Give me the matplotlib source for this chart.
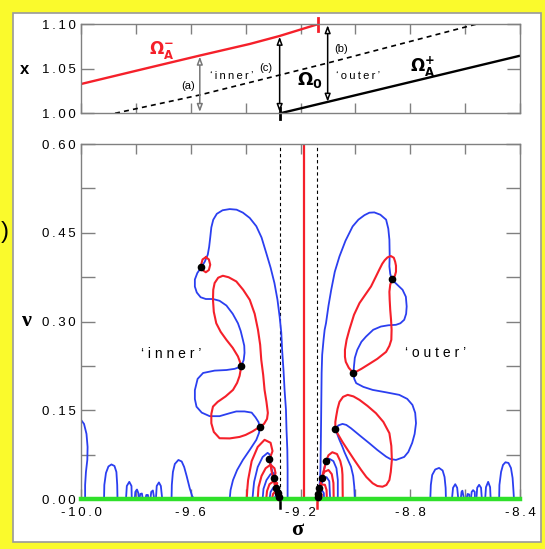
import matplotlib.pyplot as plt
from matplotlib.patches import Rectangle

plt.rcParams['font.family'] = ['Liberation Sans', 'DejaVu Sans']
plt.rcParams['mathtext.fontset'] = 'dejavusans'

# ------------------------------
# Top panel: branches versus x
# ------------------------------
omega_minus_sigma = [-10.0, -9.749, -9.567, -9.385, -9.276, -9.138]
omega_minus_x = [1.0329, 1.0515, 1.0649, 1.0779, 1.0869, 1.100]
omega0_sigma = [-9.876, -9.567, -9.276, -9.107, -8.561]
omega0_x = [1.000, 1.0206, 1.043, 1.056, 1.100]
omega_plus_sigma = [-9.274, -8.804, -8.404]
omega_plus_x = [1.000, 1.0348, 1.0644]

# gap arrows: (sigma, x_low, x_high)
arrow_a = (-9.567, 1.0015, 1.0637)
arrow_c = (-9.276, 1.0015, 1.0860)
arrow_b = (-9.101, 1.0130, 1.0990)

# ------------------------------------------
# Bottom panel: zero contours in (sigma, nu)
# ------------------------------------------
sigma_inner_edge = -9.276
sigma_outer_edge = -9.139
sigma_red_line = -9.188

# 'inner' side, blue contours
inner_big_blue = [(-9.416, 0.224), (-9.407, 0.235), (-9.404, 0.247), (-9.405, 0.259),
                  (-9.410, 0.269), (-9.418, 0.284), (-9.428, 0.297), (-9.447, 0.313),
                  (-9.470, 0.327), (-9.495, 0.335), (-9.519, 0.338), (-9.545, 0.338),
                  (-9.564, 0.341), (-9.578, 0.349), (-9.585, 0.359), (-9.585, 0.371),
                  (-9.576, 0.382), (-9.561, 0.392), (-9.549, 0.401), (-9.538, 0.413),
                  (-9.533, 0.426), (-9.529, 0.442), (-9.525, 0.459), (-9.518, 0.472),
                  (-9.505, 0.482), (-9.484, 0.488), (-9.458, 0.490), (-9.433, 0.489),
                  (-9.410, 0.484), (-9.385, 0.475), (-9.361, 0.461), (-9.342, 0.442),
                  (-9.325, 0.416), (-9.309, 0.391), (-9.295, 0.365), (-9.284, 0.337),
                  (-9.276, 0.308), (-9.270, 0.281), (-9.267, 0.252), (-9.262, 0.218),
                  (-9.258, 0.184), (-9.253, 0.151), (-9.251, 0.117), (-9.248, 0.083),
                  (-9.247, 0.049), (-9.247, 0.0)]
inner_blue_loop = [(-9.416, 0.224), (-9.440, 0.220), (-9.470, 0.218), (-9.513, 0.217),
                   (-9.555, 0.213), (-9.575, 0.203), (-9.585, 0.184), (-9.585, 0.169),
                   (-9.579, 0.156), (-9.560, 0.146), (-9.531, 0.140), (-9.495, 0.140),
                   (-9.458, 0.145), (-9.434, 0.148), (-9.404, 0.148), (-9.378, 0.146),
                   (-9.364, 0.138), (-9.353, 0.130), (-9.349, 0.122), (-9.351, 0.112),
                   (-9.361, 0.100), (-9.385, 0.083), (-9.410, 0.066), (-9.431, 0.049),
                   (-9.446, 0.032), (-9.455, 0.015), (-9.458, 0.0)]
inner_blue_arch2 = [(-9.375, 0.0), (-9.372, 0.016), (-9.369, 0.029), (-9.356, 0.054),
                    (-9.338, 0.071), (-9.320, 0.078), (-9.309, 0.074), (-9.313, 0.067),
                    (-9.304, 0.049), (-9.291, 0.024), (-9.280, 0.0)]
inner_blue_arch4 = [(-9.338, 0.0), (-9.335, 0.017), (-9.324, 0.032), (-9.309, 0.042),
                    (-9.296, 0.044), (-9.295, 0.036), (-9.287, 0.020), (-9.279, 0.0)]
inner_blue_arch6 = [(-9.313, 0.0), (-9.309, 0.012), (-9.298, 0.020), (-9.288, 0.018),
                    (-9.282, 0.012), (-9.278, 0.0)]
inner_blue_arch8 = [(-9.296, 0.0), (-9.289, 0.0068), (-9.280, 0.0059), (-9.276, 0.0)]

# 'inner' side, red contours
inner_small_red = [(-9.545, 0.4086), (-9.534, 0.4049), (-9.529, 0.396), (-9.534, 0.387),
                   (-9.545, 0.3832), (-9.557, 0.387), (-9.562, 0.396), (-9.557, 0.4049),
                   (-9.545, 0.4086)]
inner_red_loop = [(-9.416, 0.224), (-9.422, 0.2335), (-9.428, 0.241), (-9.447, 0.2555),
                  (-9.470, 0.269), (-9.491, 0.2826), (-9.507, 0.297), (-9.516, 0.3164),
                  (-9.519, 0.3367), (-9.518, 0.3536), (-9.513, 0.365), (-9.500, 0.374),
                  (-9.483, 0.3773), (-9.462, 0.3748), (-9.434, 0.3677), (-9.409, 0.3536),
                  (-9.385, 0.3367), (-9.367, 0.313), (-9.355, 0.286), (-9.347, 0.2606),
                  (-9.343, 0.2352), (-9.336, 0.2098), (-9.331, 0.1844), (-9.324, 0.164),
                  (-9.319, 0.1455), (-9.322, 0.1354), (-9.333, 0.1269), (-9.349, 0.1218),
                  (-9.375, 0.1142), (-9.400, 0.1083), (-9.422, 0.1049), (-9.458, 0.1024),
                  (-9.495, 0.1027), (-9.516, 0.1134), (-9.525, 0.1281), (-9.525, 0.1438),
                  (-9.519, 0.1562), (-9.502, 0.1641), (-9.473, 0.1734), (-9.446, 0.1844),
                  (-9.431, 0.1963), (-9.422, 0.2081), (-9.416, 0.224)]
inner_red_arch1 = [(-9.396, 0.0), (-9.394, 0.016), (-9.391, 0.032), (-9.378, 0.064),
                   (-9.356, 0.088), (-9.331, 0.100), (-9.309, 0.095), (-9.302, 0.081),
                   (-9.313, 0.067), (-9.305, 0.046), (-9.293, 0.022), (-9.282, 0.0)]
inner_red_arch3 = [(-9.356, 0.0), (-9.353, 0.020), (-9.342, 0.039), (-9.327, 0.052),
                   (-9.309, 0.058), (-9.295, 0.052), (-9.291, 0.044), (-9.295, 0.036),
                   (-9.289, 0.022), (-9.280, 0.0)]
inner_red_arch5 = [(-9.325, 0.0), (-9.322, 0.0135), (-9.313, 0.025), (-9.298, 0.030),
                   (-9.285, 0.027), (-9.288, 0.018), (-9.282, 0.010), (-9.278, 0.0)]
inner_red_arch7 = [(-9.304, 0.0), (-9.300, 0.0085), (-9.291, 0.0135), (-9.283, 0.0096),
                   (-9.277, 0.0)]

# 'outer' side, blue contours
outer_big_blue = [(-9.135, 0.0), (-9.131, 0.0186), (-9.128, 0.0406), (-9.127, 0.0541),
                  (-9.126, 0.0914), (-9.125, 0.1286), (-9.124, 0.1709), (-9.123, 0.2132),
                  (-9.121, 0.2437), (-9.116, 0.269), (-9.112, 0.286), (-9.107, 0.2973),
                  (-9.098, 0.3266), (-9.088, 0.3536), (-9.075, 0.3841), (-9.058, 0.410),
                  (-9.036, 0.4365), (-9.010, 0.4607), (-8.989, 0.4721), (-8.967, 0.4797),
                  (-8.949, 0.4839), (-8.931, 0.4844), (-8.909, 0.4805), (-8.888, 0.4721),
                  (-8.880, 0.4569), (-8.876, 0.4382), (-8.875, 0.4129), (-8.876, 0.393),
                  (-8.873, 0.3807), (-8.867, 0.3706), (-8.851, 0.3638), (-8.828, 0.3536),
                  (-8.816, 0.3418), (-8.813, 0.3254), (-8.815, 0.313), (-8.822, 0.3029),
                  (-8.836, 0.297), (-8.852, 0.2944), (-8.880, 0.2936), (-8.907, 0.2915),
                  (-8.935, 0.286), (-8.961, 0.2746), (-8.978, 0.2657), (-8.993, 0.2521),
                  (-9.002, 0.2386), (-9.005, 0.225), (-9.007, 0.2127)]
outer_blue_loop = [(-9.007, 0.2127), (-9.004, 0.203), (-8.997, 0.1958), (-8.971, 0.1895),
                   (-8.937, 0.1844), (-8.887, 0.1802), (-8.840, 0.176), (-8.811, 0.1692),
                   (-8.792, 0.159), (-8.782, 0.1455), (-8.779, 0.1281), (-8.784, 0.110),
                   (-8.793, 0.0948), (-8.807, 0.0795), (-8.822, 0.0711), (-8.852, 0.066),
                   (-8.873, 0.0677), (-8.888, 0.0716), (-8.920, 0.0829), (-8.949, 0.0942),
                   (-8.982, 0.1066), (-9.016, 0.1196), (-9.033, 0.1252), (-9.047, 0.1269),
                   (-9.062, 0.1244), (-9.073, 0.1179), (-9.065, 0.1083), (-9.058, 0.0998),
                   (-9.047, 0.088), (-9.040, 0.0795), (-9.027, 0.066), (-9.016, 0.0547),
                   (-9.008, 0.0389), (-9.004, 0.0208), (-9.002, 0.0)]
outer_blue_arch2 = [(-9.135, 0.0), (-9.127, 0.020), (-9.116, 0.046), (-9.107, 0.064),
                    (-9.095, 0.068), (-9.080, 0.064), (-9.069, 0.052), (-9.064, 0.032),
                    (-9.064, 0.0)]
outer_blue_arch4 = [(-9.133, 0.0), (-9.127, 0.019), (-9.118, 0.034), (-9.105, 0.037),
                    (-9.095, 0.030), (-9.092, 0.0)]
outer_blue_arch6 = [(-9.132, 0.0), (-9.129, 0.012), (-9.122, 0.015), (-9.115, 0.010),
                    (-9.114, 0.0)]

# 'outer' side, red contours
outer_red_loop = [(-8.867, 0.3706), (-8.856, 0.3773), (-8.852, 0.3841), (-8.852, 0.3942),
                  (-8.855, 0.401), (-8.860, 0.4078), (-8.871, 0.4107), (-8.883, 0.4083),
                  (-8.893, 0.4036), (-8.902, 0.3976), (-8.913, 0.3875), (-8.925, 0.3761),
                  (-8.943, 0.3592), (-8.964, 0.3452), (-8.985, 0.3311), (-9.005, 0.3113),
                  (-9.022, 0.286), (-9.032, 0.269), (-9.038, 0.2521), (-9.038, 0.2403),
                  (-9.035, 0.2318), (-9.024, 0.2217), (-9.007, 0.2127), (-8.978, 0.220),
                  (-8.949, 0.2284), (-8.920, 0.2369), (-8.888, 0.2487), (-8.876, 0.2589),
                  (-8.869, 0.269), (-8.868, 0.286), (-8.870, 0.3029), (-8.873, 0.3198),
                  (-8.875, 0.3367), (-8.876, 0.3503), (-8.873, 0.3621), (-8.867, 0.3706)]
outer_red_ring = [(-9.073, 0.1179), (-9.073, 0.1303), (-9.070, 0.1393), (-9.065, 0.1523),
                  (-9.058, 0.1641), (-9.045, 0.1726), (-9.028, 0.176), (-9.007, 0.1734),
                  (-8.985, 0.1675), (-8.956, 0.1574), (-8.925, 0.145), (-8.898, 0.1303),
                  (-8.876, 0.1112), (-8.869, 0.0897), (-8.867, 0.066), (-8.871, 0.0457),
                  (-8.876, 0.0321), (-8.887, 0.0237), (-8.901, 0.0208), (-8.920, 0.022),
                  (-8.937, 0.0266), (-8.960, 0.0372), (-8.979, 0.0491), (-9.004, 0.066),
                  (-9.028, 0.0829), (-9.047, 0.0964), (-9.062, 0.1083), (-9.073, 0.1179)]
outer_red_arch1 = [(-9.137, 0.0), (-9.131, 0.015), (-9.122, 0.036), (-9.113, 0.052),
                   (-9.107, 0.064), (-9.098, 0.074), (-9.084, 0.079), (-9.067, 0.076),
                   (-9.055, 0.064), (-9.049, 0.052), (-9.047, 0.041), (-9.046, 0.0)]
outer_red_arch3 = [(-9.135, 0.0), (-9.129, 0.019), (-9.123, 0.035), (-9.113, 0.046),
                   (-9.098, 0.049), (-9.086, 0.042), (-9.080, 0.027), (-9.079, 0.0)]
outer_red_arch5 = [(-9.133, 0.0), (-9.131, 0.018), (-9.122, 0.0245), (-9.111, 0.024),
                   (-9.105, 0.015), (-9.104, 0.0)]
outer_red_arch7 = [(-9.131, 0.0), (-9.129, 0.0068), (-9.123, 0.0076), (-9.122, 0.0)]

# small blue lobes along the real axis
lobes_left = [
    [(-10.0, 0.1337), (-9.989, 0.1269), (-9.980, 0.110), (-9.976, 0.088), (-9.977, 0.066),
     (-9.982, 0.0457), (-9.985, 0.0237), (-9.985, 0.0)],
    [(-9.916, 0.0), (-9.915, 0.0237), (-9.909, 0.044), (-9.900, 0.055), (-9.889, 0.0584),
     (-9.878, 0.0558), (-9.871, 0.0457), (-9.868, 0.0237), (-9.867, 0.0)],
    [(-9.836, 0.0), (-9.833, 0.022), (-9.824, 0.029), (-9.816, 0.022), (-9.815, 0.0)],
    [(-9.804, 0.0), (-9.802, 0.012), (-9.796, 0.016), (-9.791, 0.010), (-9.789, 0.0)],
    [(-9.787, 0.0), (-9.784, 0.0085), (-9.778, 0.0093), (-9.775, 0.0)],
    [(-9.765, 0.0), (-9.762, 0.0068), (-9.756, 0.0068), (-9.755, 0.0)],
    [(-9.747, 0.0), (-9.744, 0.012), (-9.738, 0.0144), (-9.733, 0.0)],
    [(-9.727, 0.0), (-9.724, 0.022), (-9.716, 0.028), (-9.709, 0.022), (-9.704, 0.0)],
    [(-9.670, 0.0), (-9.669, 0.0237), (-9.665, 0.0457), (-9.658, 0.0592), (-9.645, 0.066),
     (-9.633, 0.0634), (-9.624, 0.0541), (-9.615, 0.0389), (-9.604, 0.0186),
     (-9.595, 0.0051), (-9.588, 0.0)],
]
lobes_right = [
    [(-8.727, 0.0), (-8.725, 0.0237), (-8.720, 0.0406), (-8.709, 0.0499), (-8.695, 0.0525),
     (-8.682, 0.0482), (-8.675, 0.0372), (-8.671, 0.0186), (-8.670, 0.0)],
    [(-8.648, 0.0), (-8.644, 0.019), (-8.636, 0.025), (-8.629, 0.019), (-8.625, 0.0)],
    [(-8.616, 0.0), (-8.613, 0.012), (-8.610, 0.014), (-8.604, 0.0)],
    [(-8.595, 0.0), (-8.591, 0.0085), (-8.585, 0.0076), (-8.584, 0.0)],
    [(-8.579, 0.0), (-8.576, 0.012), (-8.571, 0.015), (-8.565, 0.012), (-8.564, 0.0)],
    [(-8.559, 0.0), (-8.556, 0.019), (-8.549, 0.024), (-8.542, 0.019), (-8.539, 0.0)],
    [(-8.527, 0.0), (-8.524, 0.020), (-8.516, 0.029), (-8.509, 0.020), (-8.507, 0.0)],
    [(-8.476, 0.0), (-8.475, 0.0237), (-8.469, 0.0457), (-8.462, 0.0575), (-8.453, 0.0621),
     (-8.442, 0.0609), (-8.433, 0.0524), (-8.427, 0.0355), (-8.424, 0.0152),
     (-8.422, 0.0)],
]

# eigenvalues (both parts vanish)
inner_dots = [(-9.561, 0.392), (-9.416, 0.224), (-9.349, 0.122), (-9.313, 0.067),
              (-9.295, 0.036), (-9.288, 0.018), (-9.283, 0.0096), (-9.279, 0.004)]
outer_dots = [(-8.867, 0.371), (-9.007, 0.213), (-9.073, 0.118), (-9.107, 0.064),
              (-9.123, 0.035), (-9.131, 0.018), (-9.137, 0.0085), (-9.138, 0.003)]

blue_curves = ([inner_big_blue, inner_blue_loop, inner_blue_arch2, inner_blue_arch4,
                inner_blue_arch6, inner_blue_arch8, outer_big_blue, outer_blue_loop,
                outer_blue_arch2, outer_blue_arch4, outer_blue_arch6]
               + lobes_left + lobes_right)
red_curves = [inner_small_red, inner_red_loop, inner_red_arch1, inner_red_arch3,
              inner_red_arch5, inner_red_arch7, outer_red_loop, outer_red_ring,
              outer_red_arch1, outer_red_arch3, outer_red_arch5, outer_red_arch7]

# axis ticks
main_xticks = [-10.0, -9.8, -9.6, -9.4, -9.2, -9.0, -8.8, -8.6, -8.4]
main_xlabels = ['-10.0', '', '-9.6', '', '-9.2', '', '-8.8', '', '-8.4']
main_yticks = [0.0, 0.075, 0.15, 0.225, 0.30, 0.375, 0.45, 0.525, 0.60]
main_ylabels = ['0.00', '', '0.15', '', '0.30', '', '0.45', '', '0.60']
top_yticks = [1.00, 1.05, 1.10]
top_ylabels = ['1.00', '1.05', '1.10']

BLUE = '#2b3ff0'
RED = '#f5202a'
GREEN = '#2fe02a'
GRAY = '#808080'
THIN = '\u2009'


def spaced(s):
    # widen the letter spacing of a label
    return THIN.join(s)


fig = plt.figure(figsize=(5.45, 5.49), dpi=100, facecolor='#fafa2c')
fig.patches.append(Rectangle((13 / 545, 7 / 549), 528 / 545, 529 / 549,
                             transform=fig.transFigure, facecolor='white',
                             edgecolor='#9a9a9a', lw=1.2, zorder=-5))

ax_top = fig.add_axes([81 / 545, 435.7 / 549, 439 / 545, 89 / 549])
ax = fig.add_axes([81 / 545, 50 / 549, 439 / 545, 355 / 549])

for a in (ax_top, ax):
    a.set_zorder(2)
    a.set_facecolor('none')
    for sp in a.spines.values():
        sp.set_color(GRAY)
        sp.set_linewidth(1.0)
    a.tick_params(direction='in', top=True, right=True, color=GRAY, width=1.0,
                  labelsize=9.5)
    a.set_xlim(-10.0, -8.4)

# ---------- top panel ----------
ax_top.set_ylim(1.0, 1.1)
ax_top.set_xticks(main_xticks)
ax_top.set_xticklabels([])
ax_top.set_yticks(top_yticks)
ax_top.set_yticklabels([spaced(t) for t in top_ylabels])
ax_top.tick_params(axis='x', length=7)
ax_top.tick_params(axis='y', length=9.5, pad=4)

ax_top.plot(omega_minus_sigma, omega_minus_x, color=RED, lw=1.7)
ax_top.plot(omega0_sigma, omega0_x, color='k', lw=1.2, ls=(0, (3, 2.5)))
ax_top.plot(omega_plus_sigma, omega_plus_x, color='k', lw=1.7)
ax_top.plot([omega_minus_sigma[-1]] * 2, [1.093, 1.107], color=RED, lw=2,
            clip_on=False)
ax_top.plot([omega_plus_sigma[0]] * 2, [0.994, 1.006], color='k', lw=2,
            clip_on=False)

for (s, lo, hi), col in ((arrow_a, '#777777'), (arrow_c, 'k'), (arrow_b, 'k')):
    ax_top.annotate('', xy=(s, hi), xytext=(s, lo),
                    arrowprops=dict(arrowstyle='<|-|>,head_length=0.45,head_width=0.17',
                                    ec=col, fc='white', lw=1.1,
                                    shrinkA=0, shrinkB=0))

ax_top.text(-9.706, 1.0711, r'$\mathbf{\Omega}_\mathbf{A}^\mathbf{-}$', color=RED,
            fontsize=12, ha='center', va='center')
ax_top.text(-8.756, 1.0524, r'$\mathbf{\Omega}_\mathbf{A}^\mathbf{+}$', color='k',
            fontsize=12, ha='center', va='center')
ax_top.text(-9.167, 1.0374, r'$\mathbf{\Omega}_\mathbf{0}$', color='k',
            fontsize=13, ha='center', va='center')
ax_top.text(-9.611, 1.0307, '(a)', fontsize=8, ha='center', va='center')
ax_top.text(-9.325, 1.0512, '(c)', fontsize=8, ha='center', va='center')
ax_top.text(-9.052, 1.0719, '(b)', fontsize=8, ha='center', va='center')
ax_top.text(-9.452, 1.042, spaced('\u2018inner\u2019'), fontsize=8, ha='center',
            va='center')
ax_top.text(-8.992, 1.042, spaced('\u2018outer\u2019'), fontsize=8, ha='center',
            va='center')

# ---------- bottom panel ----------
ax.set_ylim(0.0, 0.6)
ax.set_xticks(main_xticks)
ax.set_xticklabels([spaced(t) for t in main_xlabels])
ax.set_yticks(main_yticks)
ax.set_yticklabels([spaced(t) for t in main_ylabels])
ax.tick_params(axis='x', length=7, pad=6)
ax.tick_params(axis='y', length=10, pad=4)

for s in (sigma_inner_edge, sigma_outer_edge):
    ax.axvline(s, color='k', lw=0.8, ls=(0, (3, 2.5)), zorder=1)
ax.axvline(sigma_red_line, color=RED, lw=1.6, zorder=2)

for c in blue_curves:
    ax.plot([p[0] for p in c], [p[1] for p in c], color=BLUE, lw=1.3,
            solid_joinstyle='round', zorder=2)
for c in red_curves:
    ax.plot([p[0] for p in c], [p[1] for p in c], color=RED, lw=1.5,
            solid_joinstyle='round', zorder=2.5)

ax.plot([-10.0, -8.4], [0.0, 0.0], color=GREEN, lw=3.2, clip_on=False, zorder=3)

for dots in (inner_dots, outer_dots):
    ax.plot([p[0] for p in dots], [p[1] for p in dots], 'o', color='k', ms=4.5,
            zorder=4, clip_on=False)

ax.plot([sigma_inner_edge] * 2, [-0.003, -0.016], color='k', lw=1.8, clip_on=False)
ax.plot([sigma_outer_edge] * 2, [-0.003, -0.016], color=RED, lw=1.8, clip_on=False)

ax.text(-9.670, 0.245, '\u2018 i n n e r \u2019', fontsize=10, ha='center', va='center')
ax.text(-8.707, 0.2465, '\u2018 o u t e r \u2019', fontsize=10, ha='center', va='center')

# axis symbols
fig.text(25 / 545, 1 - 69 / 549, 'x', fontsize=12, fontweight='bold',
         ha='center', va='center')
fig.text(27 / 545, 1 - 321 / 549, '\u03bd', fontsize=16, fontweight='bold',
         family=['Liberation Serif', 'DejaVu Serif'], ha='center', va='center')
fig.text(297 / 545, 1 - 530 / 549, '\u03c3', fontsize=16, fontweight='bold',
         family=['Liberation Serif', 'DejaVu Serif'], ha='center', va='center')
fig.text(0.001, 1 - 232 / 549, ')', fontsize=17, ha='left', va='center')

fig.savefig('out.png', dpi=100, facecolor=fig.get_facecolor())
